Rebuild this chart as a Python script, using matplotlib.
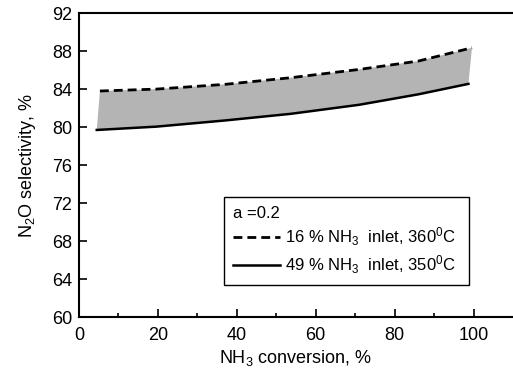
import matplotlib
matplotlib.use("Agg")
import matplotlib.pyplot as plt
import numpy as np

plt.rcParams['font.family'] = ['Liberation Sans', 'DejaVu Sans']
plt.rcParams['mathtext.fontset'] = 'custom'
plt.rcParams['mathtext.rm'] = 'Liberation Sans'
plt.rcParams['mathtext.it'] = 'Liberation Sans'

# upper curve: 16 % NH3 inlet, 360 C (dashed)
x_16 = [5.3, 19.6, 37, 53.7, 71, 86, 99.6]
s_16 = [83.8, 84.0, 84.5, 85.2, 86.07, 86.95, 88.35]
# lower curve: 49 % NH3 inlet, 350 C (solid)
x_49 = [4.5, 19.6, 37, 53.7, 71, 86, 98.7]
s_49 = [79.7, 80.05, 80.7, 81.4, 82.35, 83.45, 84.55]

label_16 = r'16 % NH$_3$  inlet, 360$^0$C'
label_49 = r'49 % NH$_3$  inlet, 350$^0$C'

fig = plt.figure(figsize=(5.13, 3.74), dpi=100)
ax = fig.add_axes([0.154, 0.152, 0.846, 0.813])

# shaded band between the two curves
poly_x = np.concatenate([x_16, x_49[::-1]])
poly_y = np.concatenate([s_16, s_49[::-1]])
ax.fill(poly_x, poly_y, color='#b4b4b4', lw=0, zorder=1)

ax.plot(x_16, s_16, color='black', lw=2, ls=(0, (3.2, 1.8)), label=label_16, zorder=3)
ax.plot(x_49, s_49, color='black', lw=1.8, label=label_49, zorder=3)

ax.set_xlim(0, 110)
ax.set_ylim(60, 92)
ax.set_xticks(np.arange(0, 101, 20))
ax.set_xticks(np.arange(10, 100, 20), minor=True)
ax.set_yticks(np.arange(60, 93, 4))

ax.spines['right'].set_visible(False)
for s in ['left', 'bottom', 'top']:
    ax.spines[s].set_linewidth(1.5)

ax.tick_params(axis='both', which='major', direction='in', length=6, width=1.2,
               labelsize=13, top=False, right=False)
ax.tick_params(axis='x', which='major', pad=7)
ax.tick_params(axis='y', which='major', pad=5)
ax.tick_params(axis='x', which='minor', direction='in', length=3, width=1.2, top=False)

ax.set_xlabel(r'NH$_3$ conversion, %', fontsize=13, labelpad=3)
ax.set_ylabel(r'N$_2$O selectivity, %', fontsize=13, labelpad=10)

leg = ax.legend(title='a =0.2', loc='lower left',
                bbox_to_anchor=(0.334, 0.105, 0.565, 0.293), mode='expand',
                fontsize=12, title_fontsize=12, fancybox=False, framealpha=1,
                edgecolor='black', handlelength=2.8, handletextpad=0.3,
                borderpad=0.55, labelspacing=0.3, borderaxespad=0)
leg._legend_box.align = 'left'
leg.get_frame().set_linewidth(1.0)

fig.savefig('out.png', dpi=100)
